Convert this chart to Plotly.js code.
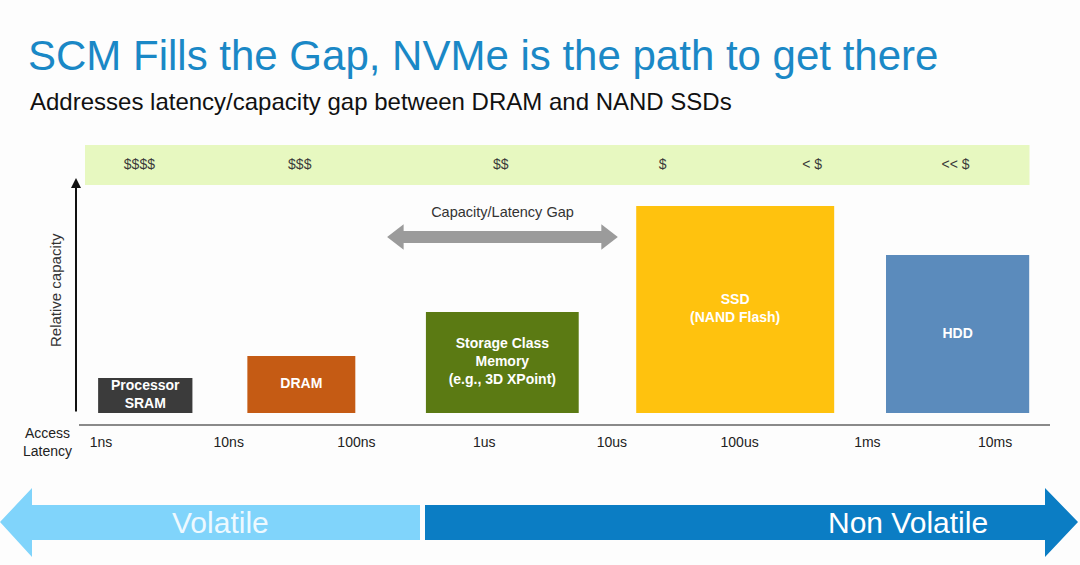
<!DOCTYPE html>
<html>
<head>
<meta charset="utf-8">
<script src="https://cdn.plot.ly/plotly-3.0.1.min.js"></script>
<style>html,body{margin:0;padding:0;background:#fdfdfd;}#chart{width:1080px;height:565px;}</style>
</head>
<body>
<div id="chart"></div>
<script>
// ---- data ----
const techLabels = ['Processor<br>SRAM', 'DRAM', 'Storage Class<br>Memory<br>(e.g., 3D XPoint)', 'SSD<br>(NAND Flash)', 'HDD'];
const latencyFromNs = [0.95, 14, 350, 15500, 1.4e6];
const latencyToNs   = [5.2, 98, 5500, 550000, 1.85e7];
const relCapacity   = [35, 57, 101, 207, 158];
const costLabels = ['$$$$', '$$$', '$$', '$', '< $', '<< $'];
const costPosNs  = [2, 36, 1350, 25000, 370000, 4.9e6];
const tickValsNs = [1, 10, 100, 1e3, 1e4, 1e5, 1e6, 1e7];
const tickLabels = ['1ns', '10ns', '100ns', '1us', '10us', '100us', '1ms', '10ms'];
const gapFromNs = 212, gapToNs = 9130;
const gapLabel = 'Capacity/Latency Gap';

// ---- style ----
const boxColors = ['#3b3b3b', '#c55b14', '#5b7a13', '#ffc20e', '#5b8bbc'];
const FONT = 'Liberation Sans, Arial, sans-serif';
const W = 1080, H = 565, L = 79, R = 30, T = 145, B = 141;
const pw = W - L - R, ph = H - T - B;
const px = x => (x - L) / pw;          // pixel -> paper x
const py = y => (H - B - y) / ph;       // pixel -> paper y

const traces = [];
// cost band
traces.push({x: [0.75, 1.86e7, 1.86e7, 0.75, 0.75], y: [228, 228, 268, 268, 228], mode: 'lines',
  fill: 'toself', fillcolor: '#e7f8c0', line: {width: 0}, hoverinfo: 'skip', showlegend: false});
traces.push({x: costPosNs, y: costLabels.map(() => 248), text: costLabels, mode: 'text',
  textfont: {family: FONT, size: 14, color: '#3a3a3a'}, hoverinfo: 'skip', showlegend: false});
// boxes
techLabels.forEach((t, i) => {
  const lo = latencyFromNs[i], hi = latencyToNs[i], c = relCapacity[i];
  traces.push({x: [lo, hi, hi, lo, lo], y: [0, 0, c, c, 0], mode: 'lines', fill: 'toself',
    fillcolor: boxColors[i], line: {width: 0}, hoverinfo: 'skip', showlegend: false});
  traces.push({x: [Math.sqrt(lo * hi)], y: [c / 2], text: ['<b>' + t + '</b>'], mode: 'text',
    textfont: {family: FONT, size: 14, color: '#ffffff'}, hoverinfo: 'skip', showlegend: false});
});
// gap arrow
traces.push({x: [gapFromNs, gapToNs], y: [176, 176], mode: 'lines', line: {color: '#9b9b9b', width: 12},
  hoverinfo: 'skip', showlegend: false});
traces.push({x: [gapFromNs, gapToNs], y: [176, 176], mode: 'markers',
  marker: {symbol: ['triangle-left', 'triangle-right'], size: 22, color: '#9b9b9b', line: {width: 0}},
  hoverinfo: 'skip', showlegend: false});
traces.push({x: [Math.sqrt(gapFromNs * gapToNs)], y: [200], text: [gapLabel], mode: 'text',
  textfont: {family: FONT, size: 14.5, color: '#333'}, hoverinfo: 'skip', showlegend: false});

function poly(pts) { return 'M' + pts.map(p => px(p[0]) + ',' + py(p[1])).join(' L') + ' Z'; }

const layout = {
  width: W, height: H,
  margin: {l: L, r: R, t: T, b: B},
  paper_bgcolor: '#fdfdfd', plot_bgcolor: 'rgba(0,0,0,0)',
  font: {family: FONT},
  hovermode: false,
  title: {text: 'SCM Fills the Gap, NVMe is the path to get there', x: 28 / W, xref: 'container', xanchor: 'left',
    y: 1 - 55 / H, yref: 'container', yanchor: 'middle', font: {family: FONT, size: 42, color: '#1a88c6'}},
  xaxis: {type: 'log', range: [-0.172, 7.43], showgrid: false, zeroline: false, showline: true,
    linecolor: '#8a8a8a', linewidth: 2, ticks: '', ticklabelstandoff: 4, tickvals: tickValsNs, ticktext: tickLabels,
    tickfont: {family: FONT, size: 14, color: '#222'}, fixedrange: true},
  yaxis: {range: [-11, 268], visible: false, fixedrange: true},
  shapes: [
    {type: 'path', xref: 'paper', yref: 'paper', line: {width: 0}, fillcolor: '#80d4fb',
      path: poly([[0, 522], [32, 488], [32, 505], [420, 505], [420, 540], [32, 540], [32, 557]])},
    {type: 'path', xref: 'paper', yref: 'paper', line: {width: 0}, fillcolor: '#0b7dc4',
      path: poly([[425, 505], [1045, 505], [1045, 488], [1078, 522], [1045, 557], [1045, 540], [425, 540]])}
  ],
  annotations: [
    {text: 'Addresses latency/capacity gap between DRAM and NAND SSDs', xref: 'paper', yref: 'paper',
      x: px(28), y: py(101), xanchor: 'left', yanchor: 'middle', showarrow: false,
      font: {family: FONT, size: 24, color: '#111'}},
    {text: '', xref: 'paper', yref: 'y', x: px(76), y: 235, ax: 0, ay: 235, showarrow: true,
      arrowhead: 2, arrowsize: 1, arrowwidth: 2, arrowcolor: '#111'},
    {text: 'Relative capacity', xref: 'paper', yref: 'y', x: px(55), y: 123, textangle: -90, showarrow: false,
      xanchor: 'center', yanchor: 'middle', font: {family: FONT, size: 15, color: '#333'}},
    {text: 'Access<br>Latency', xref: 'paper', yref: 'paper', x: px(47), y: py(442), showarrow: false,
      xanchor: 'center', yanchor: 'middle', font: {family: FONT, size: 14, color: '#222'}},
    {text: 'Volatile', xref: 'paper', yref: 'paper', x: px(220), y: py(522), showarrow: false,
      xanchor: 'center', yanchor: 'middle', font: {family: FONT, size: 30, color: '#eef9ff'}},
    {text: 'Non Volatile', xref: 'paper', yref: 'paper', x: px(908), y: py(522), showarrow: false,
      xanchor: 'center', yanchor: 'middle', font: {family: FONT, size: 30, color: '#ffffff'}}
  ]
};

Plotly.newPlot('chart', traces, layout, {displayModeBar: false, staticPlot: true});
</script>
</body>
</html>
